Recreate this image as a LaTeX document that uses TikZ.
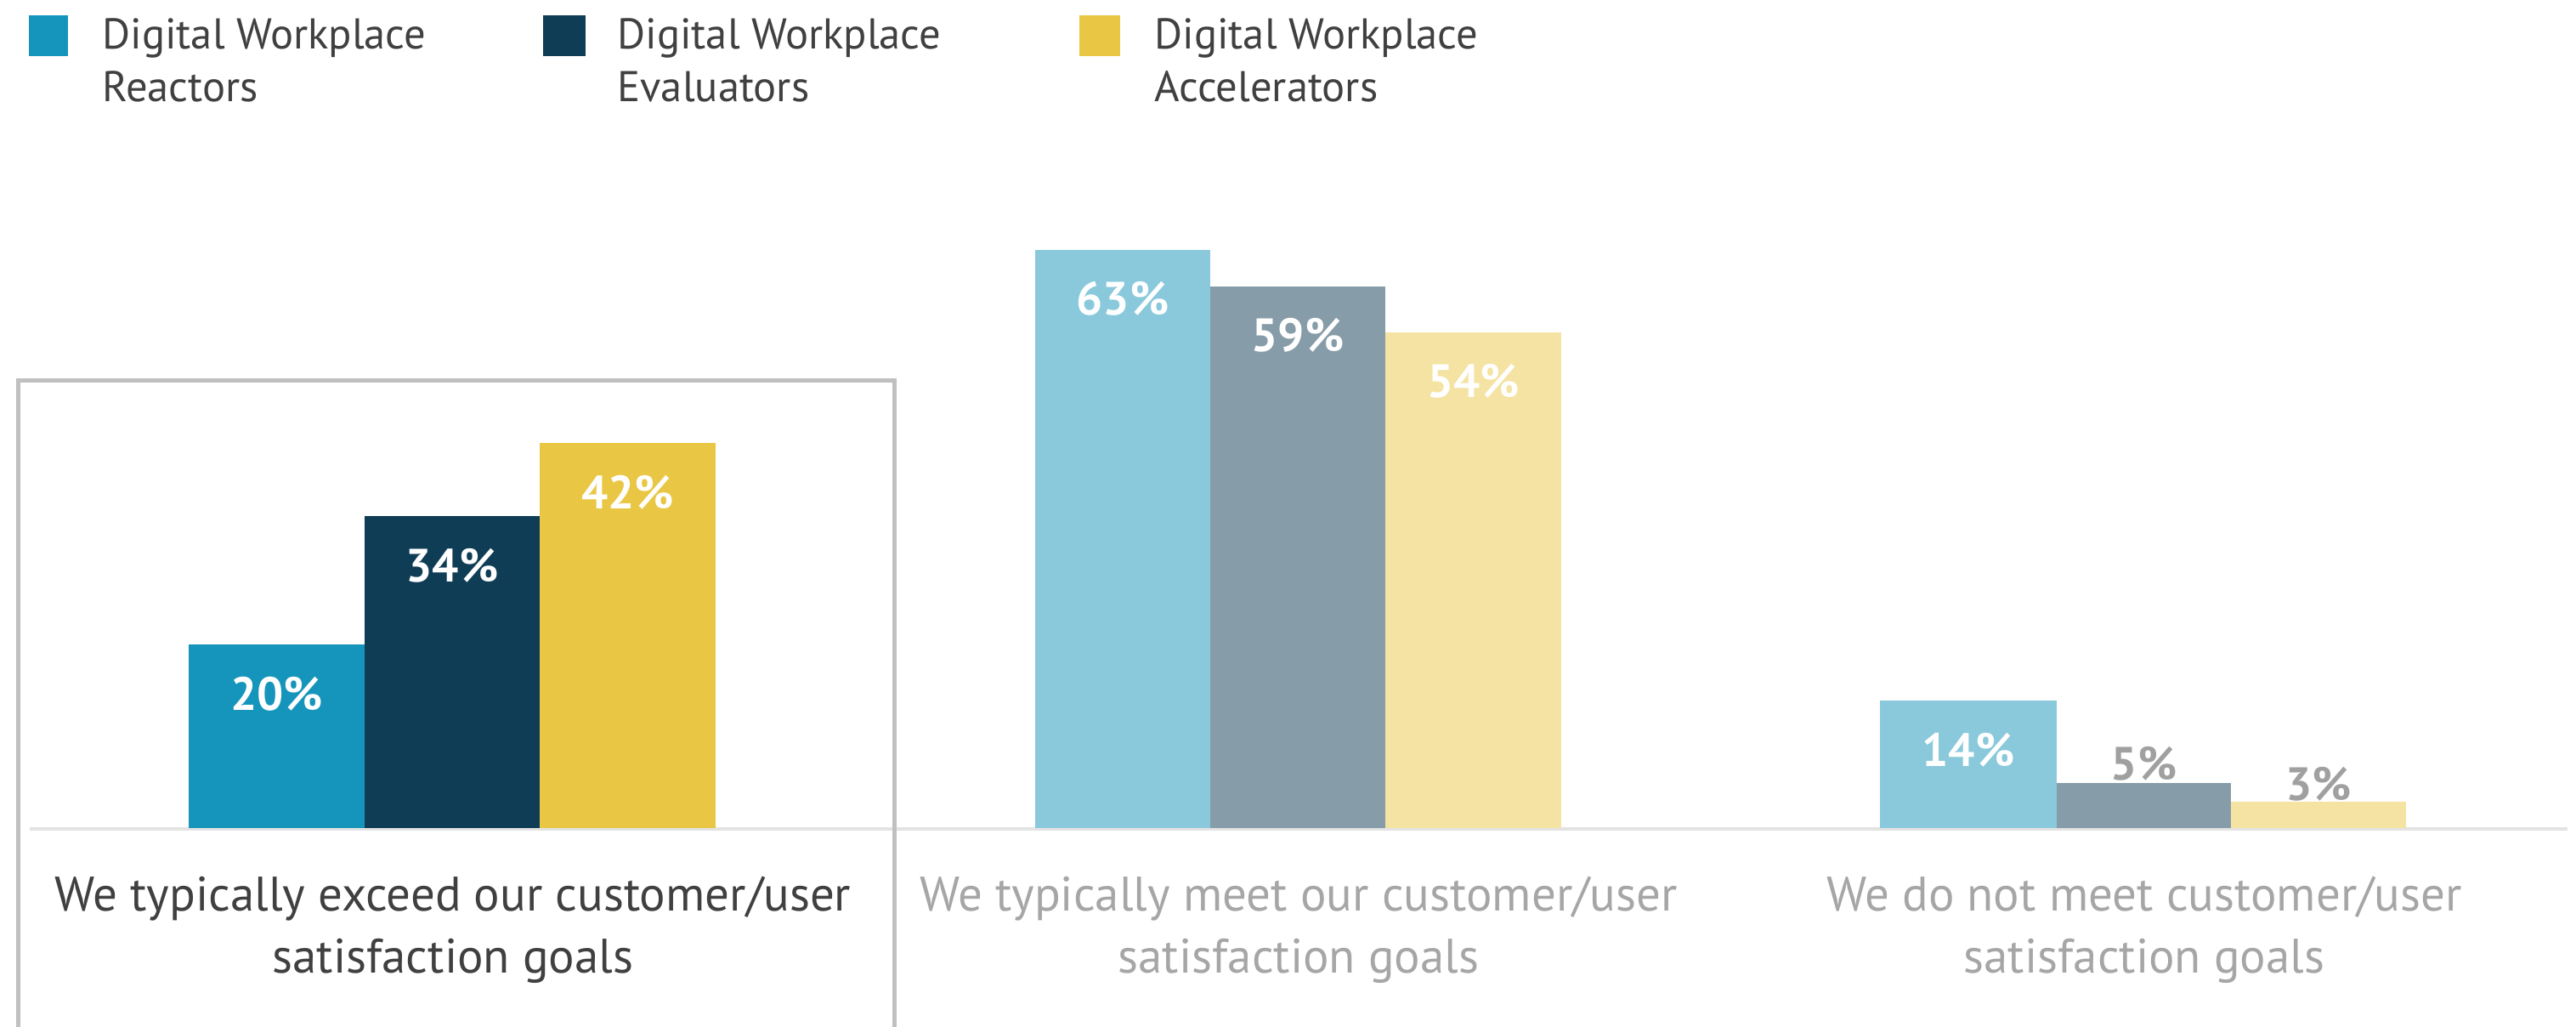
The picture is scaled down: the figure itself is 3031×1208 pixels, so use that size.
\documentclass[tikz,border=0pt]{standalone}
\usepackage{fontspec}
\setmainfont{PT Sans}
\definecolor{cA}{HTML}{1595BB}
\definecolor{cB}{HTML}{0F3D56}
\definecolor{cC}{HTML}{E9C744}
\definecolor{lA}{HTML}{8AC9DC}
\definecolor{lB}{HTML}{869DA9}
\definecolor{lC}{HTML}{F4E3A2}
\definecolor{txtdark}{HTML}{404040}
\definecolor{txtgray}{HTML}{A6A6A6}
\definecolor{valgray}{HTML}{A0A0A0}
\definecolor{boxgray}{HTML}{C0C0C0}
\definecolor{axisgray}{HTML}{E3E3E3}
\begin{document}
\begin{tikzpicture}[x=0.5pt,y=-0.5pt,
  legendtext/.style={anchor=base west,align=left,inner sep=0,text=txtdark,
    font=\fontsize{25.3}{31}\selectfont},
  catlabel/.style={anchor=base,align=center,inner sep=0,
    font=\fontsize{28.5}{36.5}\selectfont},
  valin/.style={anchor=base,inner sep=0,text=white,
    font=\fontsize{27.5}{32}\selectfont\bfseries},
  valout/.style={anchor=base,inner sep=0,text=valgray,
    font=\fontsize{27.5}{32}\selectfont\bfseries}]
\useasboundingbox (0,0) rectangle (3031,1208);
% legend
\fill[cA] (34,18) rectangle (80,66);
\node[legendtext] (legA) at (120,120) {Digital Workplace\\Reactors};
\fill[cB] (639,18) rectangle (689,66);
\node[legendtext] (legB) at (726,120) {Digital Workplace\\Evaluators};
\fill[cC] (1270,18) rectangle (1318,66);
\node[legendtext] (legC) at (1358,120) {Digital Workplace\\Accelerators};
% axis
\draw[axisgray,line width=2pt] (35,975) -- (3021,975);
% group 1
\fill[cA] (222,974) rectangle (429,758);
\fill[cB] (429,974) rectangle (635,607);
\fill[cC] (635,974) rectangle (842,521);
\node[valin] (v1a) at (325.5,835) {20\%};
\node[valin] (v1b) at (532,684) {34\%};
\node[valin] (v1c) at (738.5,598) {42\%};
% group 2
\fill[lA] (1218,974) rectangle (1424,294);
\fill[lB] (1424,974) rectangle (1630,337);
\fill[lC] (1630,974) rectangle (1837,391);
\node[valin] (v2a) at (1321,371) {63\%};
\node[valin] (v2b) at (1527,414) {59\%};
\node[valin] (v2c) at (1733.5,468) {54\%};
% group 3
\fill[lA] (2212,974) rectangle (2420,824);
\fill[lB] (2420,974) rectangle (2625,921);
\fill[lC] (2625,974) rectangle (2831,943);
\node[valin] (v3a) at (2316,901) {14\%};
\node[valout] (v3b) at (2522.5,917) {5\%};
\node[valout] (v3c) at (2728,941) {3\%};
% highlight box
\draw[boxgray,line width=2.5pt] (21,1240) -- (21,448) -- (1052,448) -- (1052,1240);
% category labels
\node[catlabel,text=txtdark] (cat1) at (533,1144) {We typically exceed our customer/user\\satisfaction goals};
\node[catlabel,text=txtgray] (cat2) at (1528,1144) {We typically meet our customer/user\\satisfaction goals};
\node[catlabel,text=txtgray] (cat3) at (2523,1144) {We do not meet customer/user\\satisfaction goals};
\end{tikzpicture}
\end{document}
